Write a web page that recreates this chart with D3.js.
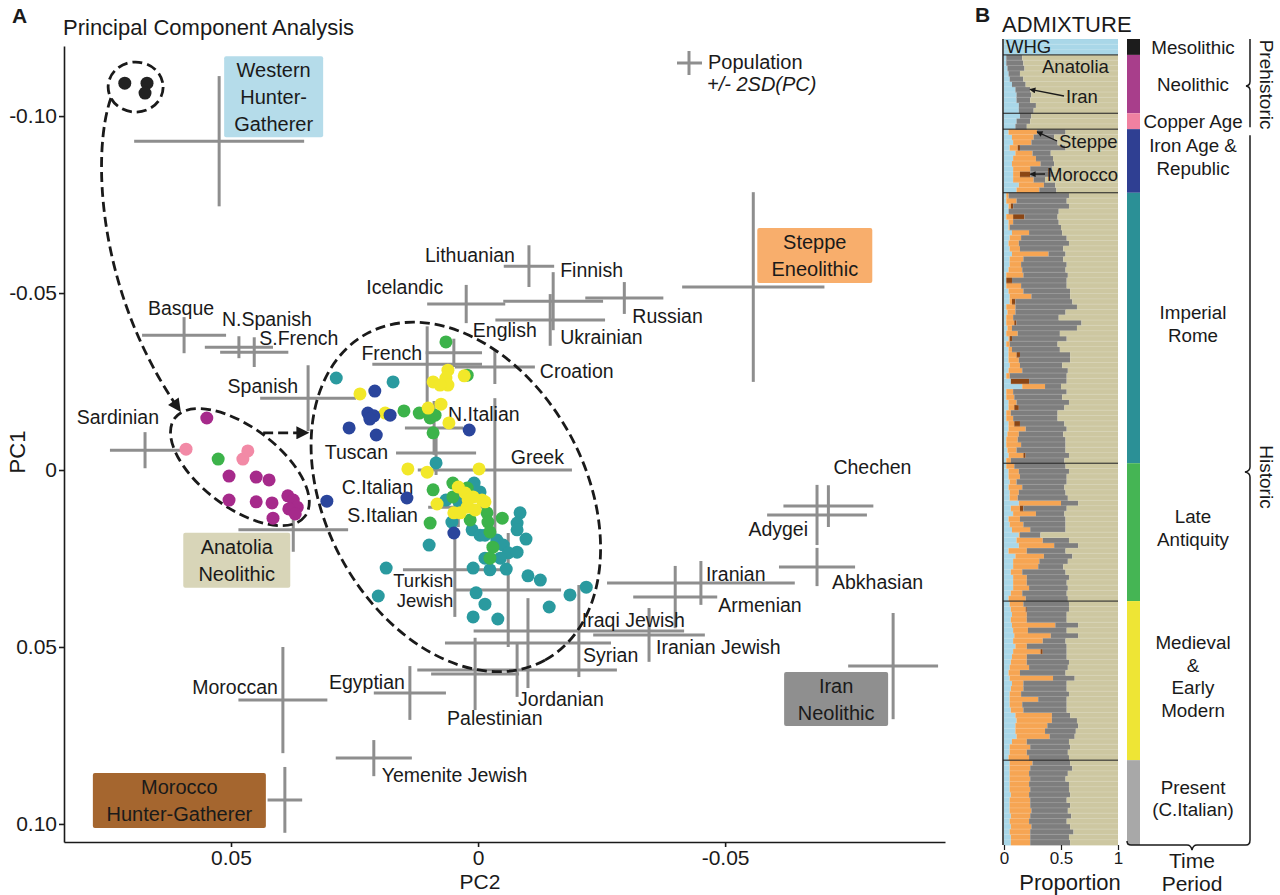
<!DOCTYPE html>
<meta charset="utf-8">
<script src="https://d3js.org/d3.v7.min.js"></script>
<style>
  body { margin: 0; background: #fff; }
  svg { display: block; }
</style>
<div id="my_dataviz"></div>
<script>

// ---------------- data ----------------

// time periods, in the order of panel B
var periods = ["Mesolithic", "Neolithic", "Copper Age", "Iron Age & Republic",
               "Imperial Rome", "Late Antiquity", "Medieval & Early Modern", "Present (C.Italian)"];
var periodColors = ["#1c1c1c", "#a83e8b", "#f081a1", "#2f3f92", "#2b9096", "#45b554", "#eee535", "#a8a8a8"];
var dotColors    = ["#222222", "#a62a8b", "#f28aa6", "#2a459c", "#2a9a9f", "#3cb34a", "#f2e829"];

// PCA individuals [PC2, PC1] for each period
var pcaMesolithic = [[.0715,-.1093],[.0670,-.1093],[.0674,-.1065]];
var pcaNeolithic = [[.0549,-.0147],[.0504,.0017],[.0449,.0020],[.0423,.0028],[.0504,.0085],[.0449,.0090],
  [.0417,.0093],[.0385,.0073],[.0374,.0085],[.0366,.0105],[.0383,.0110],[.0415,.0136],[.0370,.0124]];
var pcaCopper = [[.0591,-.0059],[.0476,-.0031],[.0466,-.0054]];
var pcaIron = [[.0209,-.0223],[.0223,-.0161],[.0211,-.0153],[.0219,-.0144],[.0178,-.0155],[.0261,-.0119],
  [.0206,-.0099],[.0018,-.0113],[.0306,.0088],[.0144,.0079],[.0049,.0178]];
var pcaImperial = [[.0287,-.0260],[.0172,-.0249],[.0085,-.0020],[.0065,.0085],[.0008,.0037],[-.0004,.0062],
  [.0038,.0093],[.0053,.0147],[.0099,.0212],[.0186,.0277],[.0202,.0356],[-.0085,.0121],[-.0079,.0150],
  [-.0079,.0169],[-.0097,.0195],[.0012,.0169],[-.0004,.0184],[-.0014,.0184],[-.0038,.0198],[-.0051,.0212],
  [-.0061,.0234],[-.0079,.0232],[-.0045,.0249],[-.0014,.0249],[.0010,.0277],[-.0024,.0282],[-.0057,.0280],
  [-.0101,.0299],[-.0126,.0311],[-.0219,.0331],[-.0186,.0353],[.0004,.0347],[-.0014,.0379],[.0010,.0415],
  [-.0040,.0421],[-.0144,.0387],[.0010,.0042]];
var pcaLate = [[.0065,-.0362],[.0022,-.0268],[.0150,-.0167],[.0119,-.0161],[.0097,-.0147],[.0087,-.0155],
  [.0091,-.0105],[.0051,.0037],[.0091,.0056],[.0022,.0051],[.0097,.0150],[-.0049,.0136],[.0016,.0141],
  [-.0018,.0121],[-.0020,.0147],[-.0024,.0175],[-.0030,.0218],[-.0024,.0249],[.0051,.0076],[.0526,-.0031]];
var pcaMedieval = [[.0239,-.0215],[.0091,-.0249],[.0061,-.0282],[.0065,-.0260],[.0061,-.0240],[.0077,-.0240],
  [.0028,-.0266],[.0188,-.0161],[.0101,-.0175],[.0075,-.0186],[.0059,-.0133],[.0142,-.0003],[.0103,.0006],
  [-.0002,-.0003],[.0083,.0096],[.0049,.0121],[.0040,.0048],[.0026,.0065],[.0010,.0076],[-.0008,.0085],
  [.0022,.0105],[.0006,.0113],[.0036,.0121],[-.0014,.0090],[.0020,.0085]];

// reference populations: [name, PC2 mean, PC1 mean, 2SD PC2, 2SD PC1]
var populations = [
  ["Western Hunter-Gatherer", .0524, -.0929, .0172, .0184],
  ["Steppe Eneolithic", -.0557, -.0517, .0144, .0268],
  ["Iran Neolithic", -.0840, .0554, .0091, .0150],
  ["Morocco Hunter-Gatherer", .0391, .0932, .0035, .0093],
  ["Anatolia Neolithic", .0374, .0169, .0111, .0062],
  ["Lithuanian", -.0103, -.0576, .0051, .0059],
  ["Finnish", -.0152, -.0477, .0101, .0082],
  ["Icelandic", .0024, -.0469, .0079, .0054],
  ["Russian", -.0296, -.0486, .0079, .0045],
  ["Ukrainian", -.0146, -.0424, .0111, .0073],
  ["English", .0049, -.0331, .0057, .0040],
  ["Basque", .0595, -.0381, .0085, .0051],
  ["N.Spanish", .0484, -.0347, .0069, .0031],
  ["S.French", .0453, -.0333, .0069, .0042],
  ["French", .0103, -.0299, .0111, .0107],
  ["Croation", -.0034, -.0291, .0081, .0048],
  ["Spanish", .0344, -.0203, .0097, .0093],
  ["Sardinian", .0674, -.0056, .0071, .0051],
  ["N.Italian", .0089, -.0119, .0059, .0076],
  ["Tuscan", .0085, -.0048, .0081, .0062],
  ["Greek", -.0034, .0000, .0156, .0203],
  ["C.Italian", .0040, .0105, .0061, .0056],
  ["S.Italian", .0047, .0282, .0105, .0133],
  ["Turkish Jewish", -.0061, .0339, .0107, .0161],
  ["Iraqi Jewish", -.0204, .0455, .0213, .0130],
  ["Iranian Jewish", -.0346, .0466, .0113, .0076],
  ["Iranian", -.0451, .0319, .0190, .0062],
  ["Armenian", -.0399, .0359, .0085, .0088],
  ["Chechen", -.0709, .0102, .0091, .0059],
  ["Adygei", -.0686, .0127, .0101, .0085],
  ["Abkhasian", -.0686, .0274, .0077, .0054],
  ["Syrian", -.0101, .0489, .0168, .0127],
  ["Jordanian", -.0079, .0565, .0202, .0076],
  ["Palestinian", .0006, .0576, .0089, .0102],
  ["Egyptian", .0138, .0630, .0073, .0076],
  ["Moroccan", .0395, .0650, .0090, .0150],
  ["Yemenite Jewish", .0211, .0814, .0077, .0051]
];

// ADMIXTURE per individual: [WHG, Steppe, Morocco HG, Iran], Anatolia is the rest
var admixMesolithic = [[1,0,0,0],[1,0,0,0],[1,0,0,0]];
var admixNeolithic = [[.02,0,0,.14],[.02,0,0,.15],[.03,0,0,.15],[.04,0,0,.10],[.05,0,0,.12],[.07,0,0,.12],
  [.10,0,0,.13],[.11,0,0,.13],[.11,0,0,.12],[.13,0,0,.15],[.13,0,0,.13]];
var admixCopper = [[.14,0,0,.10],[.11,0,0,.12],[.10,0,0,.10]];
var admixIron = [[.04,.25,0,.25],[.07,.19,0,.18],[.08,.16,0,.23],[.05,.07,.02,.40],[.10,.15,0,.16],[.08,.20,0,.15],
  [.07,.25,0,.12],[.08,.15,0,.19],[.08,.06,.09,.20],[.08,.18,0,.10],[.13,.22,0,.10],[.11,.20,0,.15]];
var admixImperial = [
  [.02,.02,0,.53],[.02,.09,0,.44],[.04,.02,.02,.49],[.04,0,0,.44],[.02,.06,.10,.29],
  [.04,.04,0,.40],[.04,.01,0,.45],[.07,.15,0,.29],[.05,.10,0,.40],[.04,.09,0,.44],
  [.05,.09,0,.38],[.07,.32,0,.15],[.05,.12,0,.35],[.05,.10,0,.40],[.04,.12,0,.38],
  [.02,.15,0,.39],[.02,0,.05,.48],[.02,.13,0,.40],[.04,.13,0,.41],[.05,.19,0,.34],
  [.05,.02,.03,.50],[.02,.08,0,.54],[.03,.07,0,.44],[.02,.06,0,.40],[.02,.07,.02,.57],
  [.03,.04,0,.57],[.02,.10,0,.37],[.04,.01,.02,.48],[.02,.03,0,.42],[.04,.03,0,.42],
  [.04,.07,.03,.44],[.04,.09,0,.45],[.05,.09,0,.37],[.04,.12,0,.40],[.02,.03,0,.50],
  [.06,0,.16,.33],[.16,.20,0,.14],[.02,.06,0,.47],[.02,.07,0,.42],[.04,.07,0,.46],
  [.04,.05,.04,.40],[.02,.04,0,.41],[.02,.06,0,.39],[.04,.05,.05,.39],[.04,.15,0,.36],
  [.03,.10,0,.39],[.02,.10,0,.42],[.02,.13,0,.39],[.03,.08,0,.43],[.04,.13,.02,.38],
  [.02,.04,0,.47]];
var admixLate = [
  [.02,.07,0,.45],[.04,.09,0,.44],[.04,.10,0,.41],[.05,.06,0,.44],[.04,.12,0,.37],
  [.05,.08,0,.41],[.05,.07,0,.44],[.13,.37,0,.15],[.06,.08,.03,.38],[.08,.20,0,.25],
  [.04,.10,0,.40],[.05,.12,0,.37],[.07,.16,0,.31],[.13,.01,0,.18],[.11,.23,0,.23],
  [.13,.31,0,.21],[.04,.16,0,.34],[.10,.25,0,.25],[.08,.23,0,.25],[.08,.22,0,.22],
  [.06,.10,0,.38],[.08,.12,0,.37],[.08,.12,0,.35],[.08,.14,0,.34],[.06,.10,0,.39],
  [.04,.15,0,.37]];
var admixMedieval = [
  [.05,.12,0,.40],[.06,.13,.01,.37],[.07,.13,0,.35],[.06,.14,0,.35],[.07,.38,0,.20],
  [.08,.13,0,.34],[.09,.32,0,.24],[.08,.26,0,.20],[.10,.10,0,.35],[.08,.24,.02,.21],
  [.07,.13,0,.35],[.06,.14,0,.37],[.05,.17,0,.34],[.04,.10,0,.40],[.05,.38,0,.19],
  [.07,.10,0,.38],[.06,.11,0,.38],[.05,.10,0,.42],[.05,.25,0,.25],[.05,.11,0,.39],
  [.06,.11,0,.38],[.10,.32,0,.16],[.11,.31,0,.22],[.10,.28,0,.27],[.10,.26,0,.27],
  [.11,.29,0,.22],[.07,.13,0,.37],[.05,.18,0,.35],[.05,.15,0,.36],[.04,.18,0,.35]];
var admixPresent = [
  [.05,.20,0,.33],[.05,.18,0,.37],[.05,.17,0,.34],[.05,.18,0,.31],[.05,.17,0,.35],
  [.05,.18,0,.34],[.06,.16,0,.36],[.05,.18,0,.32],[.05,.18,0,.35],[.05,.19,0,.32],
  [.06,.17,0,.36],[.05,.17,0,.33],[.06,.18,0,.34],[.05,.18,0,.38],[.06,.17,0,.34],
  [.06,.17,0,.35]];

var admixKeys = ["WHG", "Steppe", "MoroccoHG", "Iran", "Anatolia"];
var admixColors = ["#a9d7e8", "#f6a553", "#8b4614", "#7e7e7e", "#cdc7a1"];

// ---------------- layout ----------------
var font = "'Liberation Sans', Arial, Helvetica, sans-serif";
var ink = "#1a1a1a";

// label offsets from the cross centre, pixels: [dx, dy, anchor]
var labelPos = {
  "Lithuanian": [-14, -11, "end"], "Finnish": [7, -31, "start"], "Icelandic": [-23, -17, "end"],
  "Russian": [8, 18, "start"], "Ukrainian": [10, 17, "start"], "English": [19, -23, "start"],
  "Basque": [-3, -27, "middle"], "N.Spanish": [-17, -28, "start"], "S.French": [5, -14, "start"],
  "French": [-5, -11, "end"], "Croation": [45, 4, "start"], "Spanish": [-10, -12, "end"],
  "Sardinian": [14, -33, "end"], "N.Italian": [14, -14, "start"], "Tuscan": [-48, -1, "end"],
  "Greek": [16, -13, "start"], "C.Italian": [-45, -20, "end"], "S.Italian": [-37, -55, "end"],
  "Turkish Jewish": [-55, -9, "end"], "Iraqi Jewish": [3, -11, "start"], "Iranian Jewish": [7, 12, "start"],
  "Iranian": [5, -9, "start"], "Armenian": [43, 8, "start"], "Chechen": [5, -39, "start"],
  "Adygei": [-9, 14, "end"], "Abkhasian": [15, 15, "start"], "Syrian": [55, 12, "start"],
  "Jordanian": [1, 29, "start"], "Palestinian": [-28, 44, "start"], "Egyptian": [-5, -11, "end"],
  "Moroccan": [-5, -13, "end"], "Yemenite Jewish": [8, 17, "start"]
};

// coloured boxes for the source populations
var boxes = [
  {name: "Western Hunter-Gatherer", dx: 5, dy: -85, w: 99, h: 81, fill: "#b5dcea", lines: ["Western", "Hunter-", "Gatherer"]},
  {name: "Steppe Eneolithic", dx: 4, dy: -59, w: 115, h: 55, fill: "#f8ae6c", lines: ["Steppe", "Eneolithic"]},
  {name: "Iran Neolithic", dx: -109, dy: 6, w: 104, h: 54, fill: "#8f8f8f", lines: ["Iran", "Neolithic"]},
  {name: "Morocco Hunter-Gatherer", dx: -192, dy: -27, w: 173, h: 55, fill: "#a5662f", lines: ["Morocco", "Hunter-Gatherer"]},
  {name: "Anatolia Neolithic", dx: -110, dy: 3, w: 107, h: 55, fill: "#d8d5b8", lines: ["Anatolia", "Neolithic"]}
];

var svg = d3.select("#my_dataviz")
  .append("svg")
    .attr("width", 1280)
    .attr("height", 895);

var defs = svg.append("defs");
defs.append("marker").attr("id", "arrow")
    .attr("viewBox", "0 0 10 10").attr("refX", 9).attr("refY", 5)
    .attr("markerWidth", 15).attr("markerHeight", 13).attr("markerUnits", "userSpaceOnUse")
    .attr("orient", "auto")
  .append("path").attr("d", "M0,0 L10,5 L0,10 z").attr("fill", ink);
defs.append("marker").attr("id", "arrowS")
    .attr("viewBox", "0 0 10 10").attr("refX", 9).attr("refY", 5)
    .attr("markerWidth", 7).attr("markerHeight", 6).attr("markerUnits", "userSpaceOnUse")
    .attr("orient", "auto")
  .append("path").attr("d", "M0,0 L10,5 L0,10 z").attr("fill", ink);

function txt(g, px, py, s, size, anchor) {
  return g.append("text").attr("x", px).attr("y", py).attr("dy", "0.35em")
    .attr("text-anchor", anchor || "start").attr("font-family", font)
    .attr("font-size", size).attr("fill", ink).text(s);
}

// ================= panel A : PCA =================
var x = d3.scaleLinear().domain([0.0838, -0.0945]).range([64, 945]);
var y = d3.scaleLinear().domain([-0.1198, 0.1051]).range([46, 842]);
var fmt = function(d) { return d === 0 ? "0" : d3.format(".2f")(d).replace("\u2212", "-"); };

var gx = svg.append("g").attr("transform", "translate(0,842)")
  .call(d3.axisBottom(x).tickValues([0.05, 0, -0.05]).tickFormat(fmt).tickSize(5).tickSizeOuter(0).tickPadding(3));
var gy = svg.append("g").attr("transform", "translate(64,0)")
  .call(d3.axisLeft(y).tickValues([-0.10, -0.05, 0, 0.05, 0.10]).tickFormat(fmt).tickSize(5).tickSizeOuter(0).tickPadding(2));
[gx, gy].forEach(function(g) {
  g.attr("font-family", font).attr("font-size", 21);
  g.selectAll("path, line").attr("stroke", ink).attr("stroke-width", 1.6);
  g.selectAll("text").attr("fill", ink);
});

txt(svg, 480, 882, "PC2", 21, "middle");
txt(svg, 0, 0, "PC1", 22, "middle").attr("transform", "translate(17,452) rotate(-90)");
txt(svg, 63, 27, "Principal Component Analysis", 22);
txt(svg, 12, 16, "A", 21).attr("font-weight", "bold");

// crosses (population mean +/- 2SD)
var crossG = svg.append("g").attr("stroke", "#8e8e8e").attr("stroke-width", 3);
crossG.selectAll("line.h").data(populations).enter().append("line").attr("class", "h")
  .attr("x1", function(d) { return x(d[1] + d[3]); }).attr("x2", function(d) { return x(d[1] - d[3]); })
  .attr("y1", function(d) { return y(d[2]); }).attr("y2", function(d) { return y(d[2]); });
crossG.selectAll("line.v").data(populations).enter().append("line").attr("class", "v")
  .attr("x1", function(d) { return x(d[1]); }).attr("x2", function(d) { return x(d[1]); })
  .attr("y1", function(d) { return y(d[2] - d[4]); }).attr("y2", function(d) { return y(d[2] + d[4]); });

// legend cross
svg.append("line").attr("x1", 677).attr("x2", 702).attr("y1", 63).attr("y2", 63).attr("stroke", "#8e8e8e").attr("stroke-width", 3);
svg.append("line").attr("x1", 689).attr("x2", 689).attr("y1", 51).attr("y2", 75).attr("stroke", "#8e8e8e").attr("stroke-width", 3);
txt(svg, 708, 62, "Population", 20);
txt(svg, 707, 84, "+/- 2SD(PC)", 20).attr("font-style", "italic");

var popByName = {};
populations.forEach(function(p) { popByName[p[0]] = p; });

// population labels
var labG = svg.append("g");
populations.forEach(function(p) {
  var l = labelPos[p[0]];
  if (!l) return;
  var cx = x(p[1]), cy = y(p[2]);
  if (p[0] === "Turkish Jewish") {
    txt(labG, cx + l[0], cy + l[1], "Turkish", 18.5, l[2]);
    txt(labG, cx + l[0], cy + l[1] + 19.5, "Jewish", 18.5, l[2]);
  } else {
    txt(labG, cx + l[0], cy + l[1], p[0], 19.5, l[2]);
  }
});

// boxed source labels
boxes.forEach(function(b) {
  var p = popByName[b.name];
  var bx0 = x(p[1]) + b.dx, by0 = y(p[2]) + b.dy;
  svg.append("rect").attr("x", bx0).attr("y", by0).attr("width", b.w).attr("height", b.h)
    .attr("rx", 2).attr("fill", b.fill);
  var mid = by0 + b.h / 2, n = b.lines.length;
  b.lines.forEach(function(t, i) {
    txt(svg, bx0 + b.w / 2, mid + (i - (n - 1) / 2) * 27, t, 20, "middle");
  });
});

// dashed ellipses (centre in PC units, radii in px)
var ellipses = [
  {c: [.0693, -.1082], rx: 27.5, ry: 25, rot: 0},
  {c: [.0482, -.0008], rx: 81.5, ry: 40, rot: 37},
  {c: [.0045, .0076], rx: 186, ry: 130, rot: 61.4}
];
svg.selectAll("ellipse.grp").data(ellipses).enter().append("ellipse").attr("class", "grp")
  .attr("transform", function(d) { return "translate(" + x(d.c[0]) + "," + y(d.c[1]) + ") rotate(" + d.rot + ")"; })
  .attr("rx", function(d) { return d.rx; }).attr("ry", function(d) { return d.ry; })
  .attr("fill", "none").attr("stroke", ink).attr("stroke-width", 2.8).attr("stroke-dasharray", "10,5");

// dashed arrows
var curve = [[.0743, -.1051], [.0781, -.0904], [.0775, -.0508], [.0603, -.0167]];
svg.append("path")
  .attr("d", "M" + x(curve[0][0]) + "," + y(curve[0][1]) +
             " C" + x(curve[1][0]) + "," + y(curve[1][1]) + " " + x(curve[2][0]) + "," + y(curve[2][1]) +
             " " + x(curve[3][0]) + "," + y(curve[3][1]))
  .attr("fill", "none").attr("stroke", ink).attr("stroke-width", 2.8).attr("stroke-dasharray", "10,5")
  .attr("marker-end", "url(#arrow)");
svg.append("line")
  .attr("x1", x(.0435)).attr("y1", y(-.0105)).attr("x2", x(.0344)).attr("y2", y(-.0105))
  .attr("stroke", ink).attr("stroke-width", 2.8).attr("stroke-dasharray", "10,5")
  .attr("marker-end", "url(#arrow)");

// individuals
var dotSets = [
  {data: pcaImperial, p: 4}, {data: pcaLate, p: 5}, {data: pcaMedieval, p: 6},
  {data: pcaIron, p: 3}, {data: pcaNeolithic, p: 1}, {data: pcaCopper, p: 2}, {data: pcaMesolithic, p: 0}
];
dotSets.forEach(function(s) {
  svg.append("g").selectAll("circle").data(s.data).enter().append("circle")
    .attr("cx", function(d) { return x(d[0]); })
    .attr("cy", function(d) { return y(d[1]); })
    .attr("r", 6.5)
    .attr("fill", dotColors[s.p]);
});

// ================= panel B : ADMIXTURE =================
var admixByPeriod = [admixMesolithic, admixNeolithic, admixCopper, admixIron,
                     admixImperial, admixLate, admixMedieval, admixPresent];
var rows = [], periodStart = [];
admixByPeriod.forEach(function(arr, pi) {
  periodStart.push(rows.length);
  arr.forEach(function(v) {
    rows.push({period: pi, WHG: v[0], Steppe: v[1], MoroccoHG: v[2], Iran: v[3],
               Anatolia: Math.max(0, 1 - v[0] - v[1] - v[2] - v[3])});
  });
});
periodStart.push(rows.length);

var bx = d3.scaleLinear().domain([0, 1]).range([1004, 1118]);
var by = d3.scaleBand().domain(d3.range(rows.length)).range([39, 845]);
var stacked = d3.stack().keys(admixKeys)(rows);

svg.append("g").selectAll("g").data(stacked).enter().append("g")
    .attr("fill", function(d, i) { return admixColors[i]; })
  .selectAll("rect").data(function(d) { return d; }).enter().append("rect")
    .attr("x", function(d) { return bx(d[0]); })
    .attr("width", function(d) { return bx(d[1]) - bx(d[0]); })
    .attr("y", function(d, i) { return by(i); })
    .attr("height", by.bandwidth() + 0.4);

// faint row dividers
svg.append("g").selectAll("line").data(d3.range(1, rows.length)).enter().append("line")
  .attr("x1", bx(0)).attr("x2", bx(1))
  .attr("y1", function(i) { return by(i); }).attr("y2", function(i) { return by(i); })
  .attr("stroke", "#ffffff").attr("stroke-opacity", 0.3).attr("stroke-width", 0.6);

// period dividers
svg.append("g").selectAll("line").data(periodStart.slice(1, periods.length)).enter().append("line")
  .attr("x1", 1003).attr("x2", bx(1))
  .attr("y1", function(i) { return by(i); }).attr("y2", function(i) { return by(i); })
  .attr("stroke", ink).attr("stroke-width", 1);
svg.append("line").attr("x1", 1003).attr("x2", 1003).attr("y1", by(0)).attr("y2", 845)
  .attr("stroke", ink).attr("stroke-width", 1.5);

var gbx = svg.append("g").attr("transform", "translate(0,845)")
  .call(d3.axisBottom(bx).tickValues([0, 0.5, 1]).tickFormat(function(d) { return d === 0.5 ? "0.5" : String(d); })
    .tickSize(5).tickPadding(2));
gbx.select(".domain").remove();
gbx.attr("font-family", font).attr("font-size", 17);
gbx.selectAll("line").attr("stroke", ink).attr("stroke-width", 1.2);
gbx.selectAll("text").attr("fill", ink);

txt(svg, 1070, 882, "Proportion", 22, "middle");
txt(svg, 1002, 24, "ADMIXTURE", 22);
txt(svg, 975, 15, "B", 21).attr("font-weight", "bold");

// component labels inside the bars
var rowMid = function(i) { return by(i) + by.bandwidth() / 2; };
txt(svg, 1006, rowMid(1), "WHG", 18.5);
txt(svg, 1042, 67, "Anatolia", 18.5);
var admixNotes = [
  {t: "Iran", tx: 1066, ty: 97, v: 0.228, row: 9},
  {t: "Steppe", tx: 1059, ty: 142, v: 0.29, row: 17},
  {t: "Morocco", tx: 1047, ty: 175, v: 0.23, row: 25}
];
admixNotes.forEach(function(n) {
  txt(svg, n.tx, n.ty, n.t, 18.5);
  svg.append("line").attr("x1", n.tx - 2).attr("y1", n.ty - 1)
    .attr("x2", bx(n.v)).attr("y2", rowMid(n.row))
    .attr("stroke", ink).attr("stroke-width", 1.3).attr("marker-end", "url(#arrowS)");
});

// time-period colour strip and labels
var periodLines = [["Mesolithic"], ["Neolithic"], ["Copper Age"], ["Iron Age &", "Republic"], ["Imperial", "Rome"],
                   ["Late", "Antiquity"], ["Medieval", "&", "Early", "Modern"], ["Present", "(C.Italian)"]];
periods.forEach(function(p, i) {
  var y0 = by(periodStart[i]), y1 = periodStart[i + 1] < rows.length ? by(periodStart[i + 1]) : 845;
  svg.append("rect").attr("x", 1127).attr("width", 13).attr("y", y0).attr("height", y1 - y0)
    .attr("fill", periodColors[i]);
  var lines = periodLines[i], mid = (y0 + y1) / 2 - (lines.length > 1 ? 4 : 0);
  lines.forEach(function(t, k) {
    txt(svg, 1193, mid + (k - (lines.length - 1) / 2) * 22.5, t, 18.8, "middle");
  });
});

// brackets
var yPre = by(periodStart[3]);
svg.append("path")
  .attr("d", "M1250,39 L1250," + (yPre / 2 + 17) + " Q1250," + (yPre / 2 + 21) + " 1246," + (yPre / 2 + 21.5) +
             " Q1250," + (yPre / 2 + 22) + " 1250," + (yPre / 2 + 26) + " L1250," + (yPre - 2))
  .attr("fill", "none").attr("stroke", ink).attr("stroke-width", 1.5);
var hb = 472;
svg.append("path")
  .attr("d", "M1250," + (yPre + 6) + " L1250," + (hb - 5) + " Q1250," + (hb - 1) + " 1245," + hb +
             " Q1250," + (hb + 1) + " 1250," + (hb + 5) + " L1250,840 Q1250,845 1246,845 L1197,845" +
             " Q1193,845 1192,850 Q1191,845 1187,845 L1131,845 Q1127,845 1127,841")
  .attr("fill", "none").attr("stroke", ink).attr("stroke-width", 1.5);
txt(svg, 0, 0, "Prehistoric", 19, "middle").attr("transform", "translate(1267," + (yPre / 2 + 20) + ") rotate(90)");
txt(svg, 0, 0, "Historic", 19, "middle").attr("transform", "translate(1267,477) rotate(90)");
txt(svg, 1192, 861, "Time", 21, "middle");
txt(svg, 1192, 884, "Period", 21, "middle");

</script>
